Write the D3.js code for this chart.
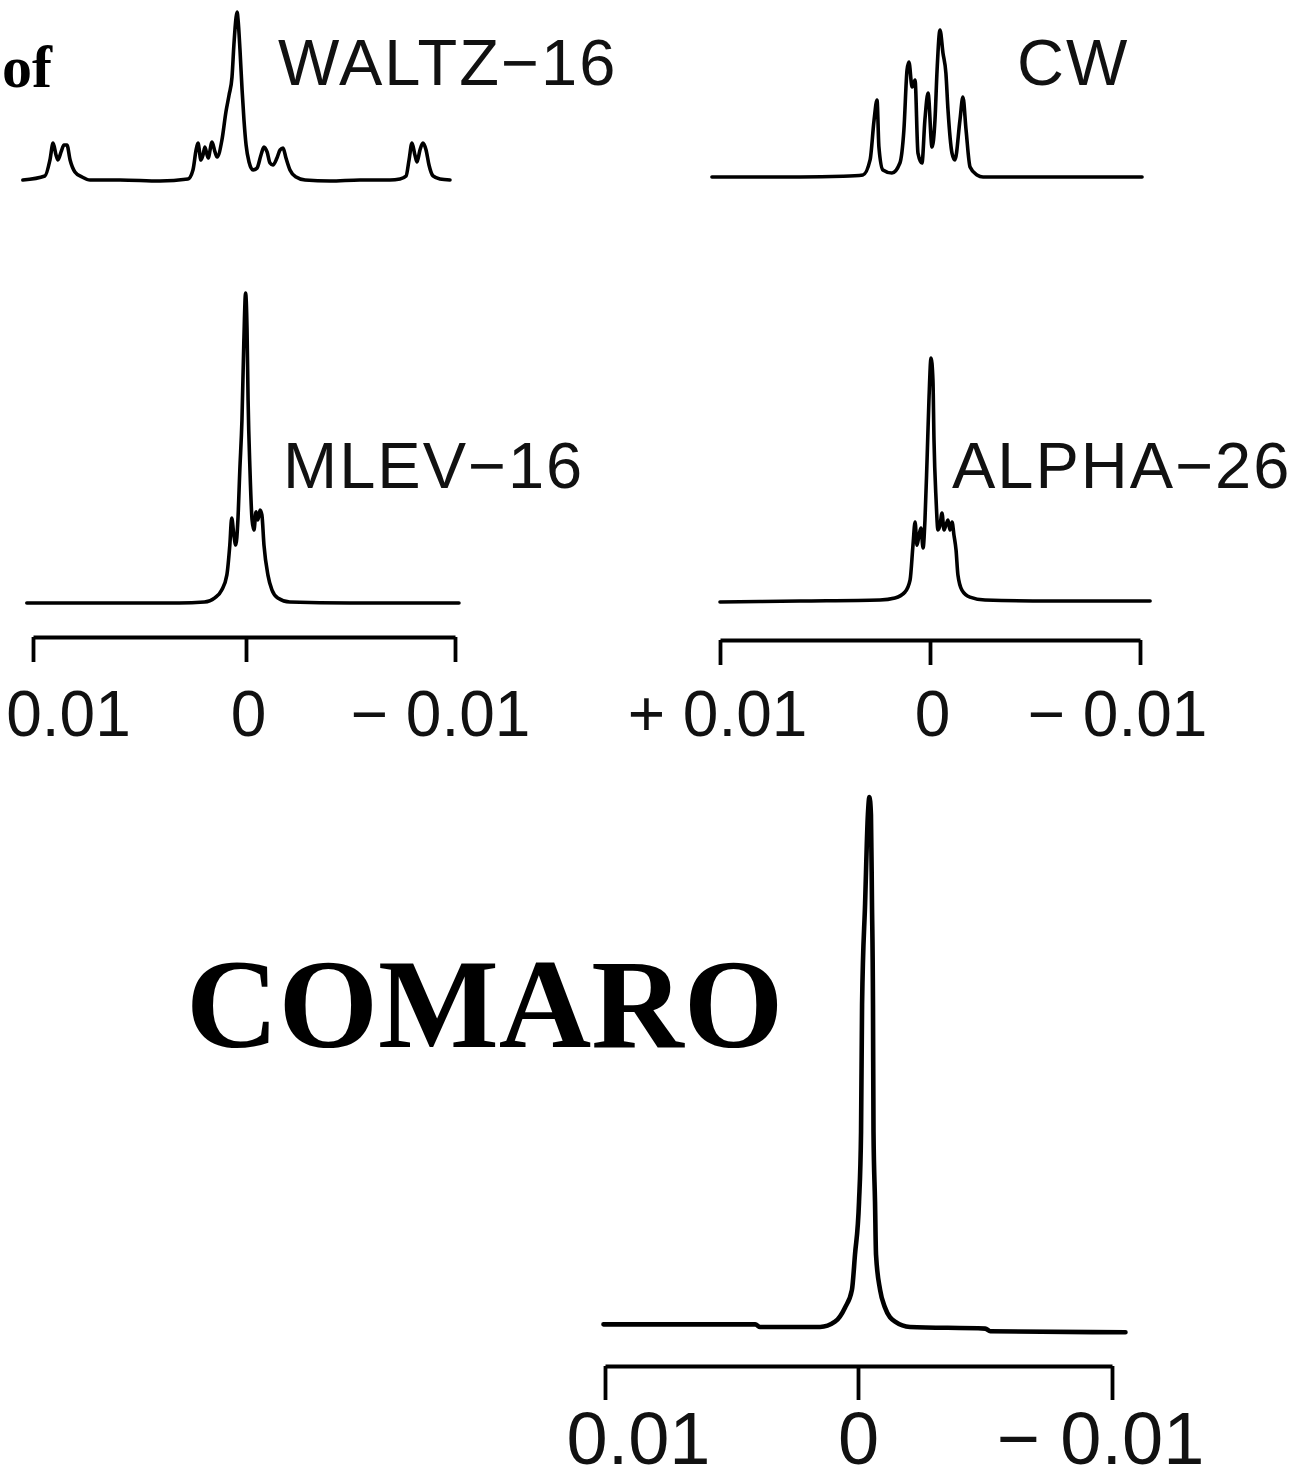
<!DOCTYPE html>
<html>
<head>
<meta charset="utf-8">
<title>Decoupling profiles</title>
<script src="https://cdn.jsdelivr.net/npm/d3@7"></script>
<style>
  body {margin:0; background:#fff;}
  svg {display:block;}
  .lbl {font-family:'Liberation Sans',Arial,sans-serif; font-size:65px; letter-spacing:2px; fill:#111;}
  .tick text {font-family:'Liberation Sans',Arial,sans-serif; fill:#111;}
  .big {font-family:'Liberation Serif','Times New Roman',serif; font-weight:bold; fill:#000;}
  .spec {fill:none; stroke:#000; stroke-linejoin:round; stroke-linecap:round;}
</style>
</head>
<body>
<svg id="fig" width="1305" height="1484"></svg>
<script>
// offset in units of 0.001 (axis runs +0.01 .. -0.01), intensity in % of tallest line
var tickValues=[10,0,-10];
var tickLabelsPlain=['0.01','0','\u2212 0.01'];
var tickLabelsSigned=['+ 0.01','0','\u2212 0.01'];

var waltz16=[[10.15,0],[9.1,2.4],[8.86,11.9],[8.71,22],[8.57,14.9],[8.48,11.9],[8.33,16.7],[8.19,20.8],
  [8.05,20.8],[7.9,11.9],[7.67,4.8],[7.33,1.8],[6.95,0],[5.52,0],[3.62,-0.6],[2.29,0.6],[2.05,6],
  [1.9,17.9],[1.81,22],[1.67,11.9],[1.57,14.9],[1.48,19.6],[1.33,13.1],[1.14,22.6],[1.0,16.7],
  [0.9,13.7],[0.67,23.8],[0.48,40.5],[0.33,50.6],[0.19,61.3],[0.1,80.4],[0,96.4],[-0.05,100],
  [-0.1,95.2],[-0.19,77.4],[-0.29,53.6],[-0.38,35.7],[-0.48,20.8],[-0.62,10.7],[-0.81,6],[-1.0,7.1],
  [-1.19,14.9],[-1.33,19.6],[-1.48,16.7],[-1.62,10.1],[-1.76,8.9],[-1.95,13.1],[-2.1,17.9],[-2.24,19],
  [-2.38,13.1],[-2.57,6],[-2.86,1.8],[-3.29,0],[-4.48,-0.6],[-5.9,0],[-7.33,0],[-7.81,0.6],[-8.1,2.4],
  [-8.24,11.9],[-8.38,22],[-8.52,14.9],[-8.62,10.7],[-8.76,17.9],[-8.9,22],[-9.05,17.9],[-9.19,8.9],
  [-9.38,2.4],[-9.71,0.6],[-10.19,0]];

var cw=[[10.24,0],[8,0],[6.05,0],[4,0.5],[3.05,1.4],[2.71,11.6],[2.52,38.8],[2.38,52.4],[2.29,20.4],
  [2.1,4.8],[1.67,2.7],[1.29,9.5],[1.1,32],[0.95,72.8],[0.86,78.2],[0.71,61.2],[0.57,66],[0.43,16.3],
  [0.24,9.5],[0.1,38.8],[-0.05,57.1],[-0.24,20.4],[-0.38,38.8],[-0.48,72.8],[-0.62,100],[-0.76,84.4],
  [-0.9,70.7],[-1.0,45.6],[-1.19,16.3],[-1.33,11.6],[-1.57,38.8],[-1.71,54.4],[-1.86,32],[-2.05,6.8],
  [-2.38,1.4],[-2.67,0],[-10.24,0]];

var mlev16=[[10.29,0],[5.52,0],[3.14,0],[1.95,0.3],[1.48,1.6],[1.14,4.2],[0.9,9],[0.76,18.7],
  [0.67,27.4],[0.57,21.9],[0.48,18.7],[0.38,26.8],[0.29,42.9],[0.19,59],[0.1,84.8],[0.02,100],
  [-0.05,88.1],[-0.1,65.5],[-0.19,42.9],[-0.29,26.8],[-0.38,23.5],[-0.48,29.4],[-0.57,26.8],[-0.67,30],
  [-0.76,28.4],[-0.86,18.7],[-1.05,9],[-1.24,4.2],[-1.52,1.6],[-2.1,0.3],[-4.95,0],[-10.19,0]];

var alpha26=[[10.0,-0.4],[6.19,0],[2.38,0.4],[1.67,1.2],[1.19,3.7],[0.95,8.6],[0.81,23],[0.71,32.5],
  [0.62,23],[0.52,27.2],[0.43,30],[0.33,21.8],[0.24,33.3],[0.14,58],[0.05,82.7],[-0.05,100],
  [-0.14,90.9],[-0.19,66.3],[-0.29,41.6],[-0.38,29.2],[-0.48,31.3],[-0.57,36.2],[-0.67,29.2],
  [-0.76,31.3],[-0.86,33.3],[-0.95,29.2],[-1.05,32.5],[-1.14,27.2],[-1.24,21],[-1.33,10.7],
  [-1.52,4.5],[-1.9,1.6],[-2.62,0.4],[-5.71,0],[-10.48,0]];

var comaro=[[10.06,0.5],[4.06,0.5],[3.87,0],[1.5,0],[0.91,1],[0.51,3.7],[0.24,7],[0.12,13.6],
  [-0.04,23.6],[-0.12,36.9],[-0.16,60.8],[-0.28,80],[-0.39,96.7],[-0.45,100],[-0.51,96.7],[-0.55,80],
  [-0.59,60.8],[-0.61,36.9],[-0.67,23.6],[-0.71,13.6],[-0.87,7],[-1.06,3.7],[-1.46,1],[-2.05,0],
  [-5.01,-0.3],[-5.21,-0.8],[-10.53,-1]];

var svg=d3.select('#fig');

function panel(o){
  var x=d3.scaleLinear().domain(tickValues).range(o.xr);
  var y=d3.scaleLinear().domain([0,100]).range([o.base,o.top]);
  var line=d3.line().x(function(d){return x(d[0]);}).y(function(d){return y(d[1]);})
             .curve(d3.curveMonotoneX);
  svg.append('path').datum(o.data).attr('class','spec')
     .attr('stroke-width',o.sw||3.6).attr('d',line);
  if(o.name) svg.append('text').attr('class','lbl')
     .attr('x',o.lx).attr('y',o.ly).text(o.name);
  if(o.axisY){
    var g=svg.append('g').attr('transform','translate(0,'+o.axisY+')')
       .call(d3.axisBottom(x).tickValues(tickValues).tickSize(o.tickLen).tickSizeOuter(0)
             .tickFormat(function(d,i){return o.labels[i];}));
    g.select('.domain').attr('stroke','#000').attr('stroke-width',3.8);
    g.selectAll('.tick line').attr('stroke','#000').attr('stroke-width',3.8);
    g.selectAll('.tick text').attr('font-size',o.fs).attr('y',o.labelY-o.axisY)
     .attr('dy',0).attr('dx',function(d,i){return o.dx[i];});
  }
}

panel({data:waltz16,name:'WALTZ\u221216',xr:[26,236,446],base:180,top:12,lx:278,ly:85});
panel({data:cw,name:'CW',xr:[717,927,1137],base:177,top:30,lx:1017,ly:85});
panel({data:mlev16,name:'MLEV\u221216',xr:[33,246,455],base:603,top:293,lx:283,ly:488,
       axisY:637,tickLen:25,labels:tickLabelsPlain,fs:64,labelY:736,dx:[35,2,-15]});
panel({data:alpha26,name:'ALPHA\u221226',xr:[720,930,1140],base:601,top:358,lx:952,ly:488,
       axisY:640,tickLen:25,labels:tickLabelsSigned,fs:64,labelY:736,dx:[-3,2,-23]});
panel({data:comaro,xr:[605,858,1112],base:1327,top:797,sw:4.6,
       axisY:1366,tickLen:34,labels:tickLabelsPlain,fs:74,labelY:1464,dx:[33,0,-12]});

svg.append('text').attr('class','big').attr('x',2).attr('y',87)
   .attr('font-size',60).text('of');
svg.append('text').attr('class','big').attr('x',186).attr('y',1047)
   .attr('font-size',128).text('COMARO');
</script>
</body>
</html>
